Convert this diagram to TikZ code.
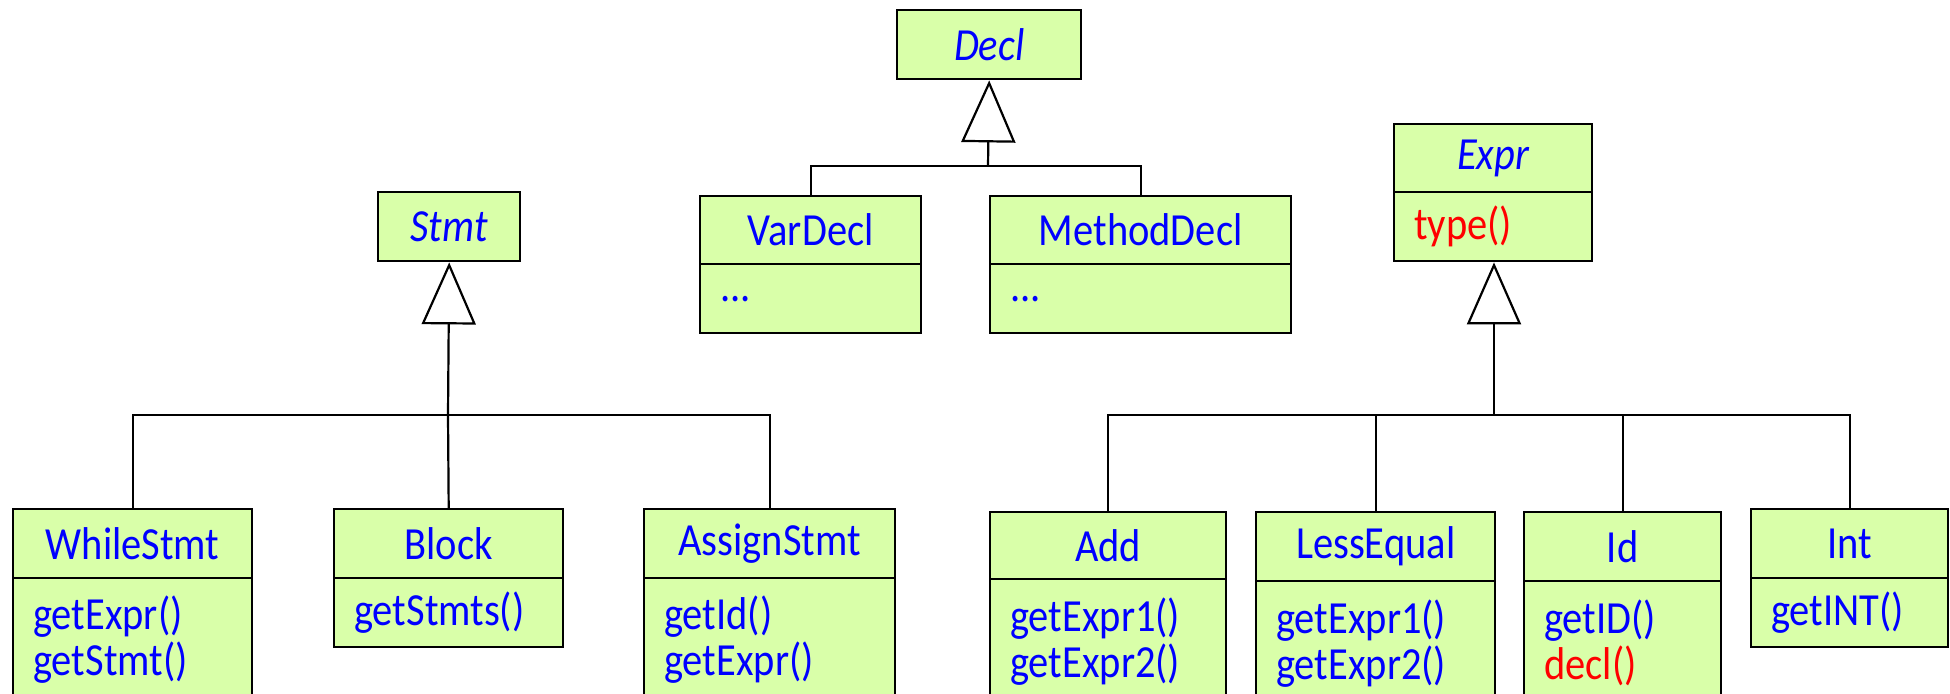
\documentclass[tikz,border=0pt]{standalone}
\usepackage{fontspec}
\setmainfont{Carlito}
\newfontfamily\umlf{Carlito}[FakeStretch=0.88]
\usetikzlibrary{arrows.meta}
\definecolor{boxfill}{RGB}{217,255,169}
\definecolor{txtblue}{RGB}{0,0,255}
\definecolor{txtred}{RGB}{255,0,0}
\tikzset{
  umlfont/.style={font=\umlf\fontsize{23}{23}\selectfont},
  hdr/.style={draw=black, line width=1.2pt, fill=boxfill, inner sep=0pt,
    anchor=north west, text=txtblue, umlfont},
  bdy/.style={draw=black, line width=1.2pt, fill=boxfill, inner xsep=10pt, inner ysep=0pt,
    anchor=north west, text=txtblue, umlfont, align=left},
  conn/.style={line width=1.1pt},
  inherit/.style={conn, -{Triangle[open, length=31pt, width=27pt, line width=1.1pt]}}
}
% name, x-left, y-top, x-right, y-divider, y-bottom, title, body
\newcommand\umlclass[8]{%
  \node[hdr, minimum width={(#4-#2)*0.5pt}, minimum height={(#5-#3)*0.5pt}]
    (#1) at (#2,#3) {#7};
  \node[bdy, text width={(#4-#2-40)*0.5pt}, minimum height={(#6-#5)*0.5pt}]
    (#1-body) at (#2,#5) {#8};
}
\begin{document}
\begin{tikzpicture}[x=0.5pt, y=-0.5pt]
\useasboundingbox (0,0) rectangle (1950,694);

% Decl hierarchy
\node[hdr, minimum width={184*0.5pt}, minimum height={69*0.5pt}] (decl) at (896,9) {\itshape Decl};
\umlclass{vardecl}{699}{195}{920}{263}{332}{VarDecl}{...}
\umlclass{methoddecl}{989}{195}{1290}{263}{332}{MethodDecl}{...}
\coordinate (decljoin) at (988,166);
\draw[conn] (vardecl.north) |- (decljoin);
\draw[conn] (methoddecl.north) |- (decljoin);
\draw[inherit] (decljoin) -- (decl.south);

% Stmt hierarchy
\node[hdr, minimum width={142*0.5pt}, minimum height={69*0.5pt}] (stmt) at (377,191) {\itshape Stmt};
\umlclass{whilestmt}{12}{508}{251}{577}{700}{WhileStmt}{getExpr()\\getStmt()}
\umlclass{block}{333}{508}{562}{577}{646}{Block}{getStmts()}
\umlclass{assignstmt}{643}{508}{894}{577}{700}{AssignStmt}{getId()\\getExpr()}
\coordinate (stmtjoin) at (448,415);
\draw[conn] (whilestmt.north) |- (stmtjoin);
\draw[conn] (assignstmt.north) |- (stmtjoin);
\draw[conn] (block.north) -- (stmtjoin);
\draw[inherit] (stmtjoin) -- (stmt.south);

% Expr hierarchy
\umlclass{expr}{1393}{123}{1591}{191}{260}{\itshape Expr}{\textcolor{txtred}{type()}}
\umlclass{add}{989}{511}{1225}{578}{702}{Add}{getExpr1()\\getExpr2()}
\umlclass{lessequal}{1255}{511}{1494}{580}{704}{LessEqual}{getExpr1()\\getExpr2()}
\umlclass{id}{1523}{511}{1720}{580}{704}{Id}{getID()\\\textcolor{txtred}{decl()}}
\umlclass{int}{1750}{508}{1947}{577}{646}{Int}{getINT()}
\coordinate (exprjoin) at (1494,415);
\draw[conn] (add.north) |- (exprjoin);
\draw[conn] (lessequal.north) |- (exprjoin);
\draw[conn] (id.north) |- (exprjoin);
\draw[conn] (int.north) |- (exprjoin);
\draw[inherit] (exprjoin) -- (exprjoin |- expr-body.south);
\end{tikzpicture}
\end{document}
